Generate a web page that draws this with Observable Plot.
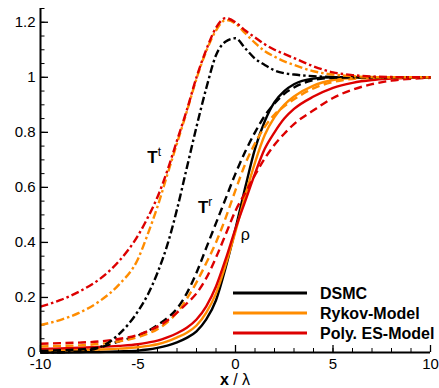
<!DOCTYPE html>
<html><head><meta charset="utf-8">
<script src="https://cdn.jsdelivr.net/npm/d3@7"></script>
<script src="https://cdn.jsdelivr.net/npm/@observablehq/plot@0.6"></script>
<style>
body{margin:0;background:#fff}
#chart{width:439px;height:388px}
</style>
</head><body><div id="chart"></div>
<script>
// ---- data ----
const models = ["DSMC", "Rykov-Model", "Poly. ES-Model"];
const modelColors = ["#000000", "#ff8c00", "#dd0000"];
const xs = [-10,-9,-8,-7,-6,-5,-4.5,-4,-3.5,-3,-2.5,-2,-1.5,-1,-0.5,0,0.5,1,1.5,2,2.5,3,4,5,6,7,8,10];

// density rho (solid)
const rhoDSMC  = [0,0,0.001,0.002,0.004,0.007,0.011,0.017,0.025,0.037,0.053,0.077,0.12,0.19,0.31,0.45,0.6,0.74,0.84,0.91,0.95,0.975,0.995,1,1,1,1,1];
const rhoRykov = [0.006,0.007,0.009,0.011,0.014,0.019,0.024,0.03,0.04,0.055,0.072,0.098,0.145,0.215,0.32,0.44,0.57,0.69,0.79,0.855,0.9,0.93,0.97,0.99,0.997,1,1,1];
const rhoPoly  = [0.013,0.015,0.017,0.02,0.024,0.03,0.036,0.043,0.055,0.07,0.09,0.12,0.168,0.24,0.34,0.45,0.55,0.65,0.74,0.8,0.85,0.885,0.93,0.962,0.98,0.99,0.995,1];

// rotational temperature T^r (dashed)
const trDSMC  = [0.006,0.008,0.011,0.018,0.04,0.062,0.078,0.1,0.125,0.16,0.215,0.29,0.38,0.47,0.56,0.65,0.73,0.8,0.86,0.905,0.94,0.963,0.99,0.998,1,1,1,1];
const trRykov = [0.022,0.024,0.026,0.031,0.04,0.056,0.068,0.085,0.11,0.145,0.195,0.255,0.325,0.4,0.49,0.59,0.685,0.76,0.82,0.865,0.895,0.92,0.96,0.983,0.994,0.998,1,1];
const trPoly  = [0.032,0.034,0.036,0.04,0.049,0.064,0.078,0.094,0.116,0.145,0.178,0.215,0.27,0.345,0.43,0.515,0.58,0.645,0.705,0.755,0.795,0.83,0.88,0.925,0.955,0.975,0.988,0.998];

// translational temperature T^t (dash-dot)
const ttDSMC  = [0,0.001,0.004,0.018,0.065,0.15,0.21,0.29,0.39,0.52,0.67,0.82,0.96,1.08,1.13,1.142,1.105,1.068,1.045,1.025,1.015,1.01,1.004,1.001,1,1,1,1];
const ttRykov = [0.1,0.118,0.145,0.185,0.245,0.34,0.43,0.53,0.645,0.76,0.875,0.995,1.095,1.17,1.208,1.195,1.16,1.125,1.095,1.075,1.058,1.045,1.022,1.01,1.004,1.001,1,1];
const ttPoly  = [0.167,0.19,0.222,0.265,0.33,0.425,0.49,0.565,0.66,0.77,0.88,1.0,1.1,1.18,1.215,1.2,1.17,1.145,1.12,1.1,1.085,1.07,1.04,1.018,1.008,1.003,1.001,1];

const xDomain = [-10, 10];
const yDomain = [0, 1.25];
const xMajor = [-10, -5, 0, 5, 10];
const xMinor = d3.range(-10, 10.01, 1);
const yMajor = [0, 0.2, 0.4, 0.6, 0.8, 1, 1.2];
const yMinor = d3.range(0, 1.251, 0.05).map(v => +v.toFixed(2));

const annotations = [
  {x: -4.5, y: 0.687, base: "T", sup: "t", bold: true},
  {x: -1.9, y: 0.505, base: "T", sup: "r", bold: true},
  {x: 0.3, y: 0.407, base: "ρ", sup: "", bold: false}
];

// ---- build table ----
const groups = [
  {qty: "rho", dash: null, vals: [rhoDSMC, rhoRykov, rhoPoly]},
  {qty: "Tr", dash: "8,4.5", vals: [trDSMC, trRykov, trPoly]},
  {qty: "Tt", dash: "8,3,2.5,3", vals: [ttDSMC, ttRykov, ttPoly]}
];
const lineMarks = groups.map(g => {
  const rows = g.vals.flatMap((arr, mi) => xs.map((x, i) => ({x, y: arr[i], model: models[mi]})));
  return Plot.line(rows, {x: "x", y: "y", z: "model", stroke: "model", strokeWidth: 2.4,
    strokeDasharray: g.dash, curve: "monotone-x", strokeLinecap: "butt"});
});

const fmt = d => String(+d.toFixed(2));
const FONT = "'Liberation Sans', Arial, sans-serif";

const plot = Plot.plot({
  width: 439, height: 388,
  marginLeft: 40, marginRight: 9, marginTop: 8, marginBottom: 36,
  style: {fontFamily: FONT, fontSize: "15px", background: "white", color: "black", overflow: "visible"},
  x: {domain: xDomain},
  y: {domain: yDomain},
  color: {domain: models, range: modelColors},
  marks: [
    Plot.axisX(xMajor, {tickSize: 0, tickPadding: 6, label: null, tickFormat: fmt, fontSize: 15}),
    Plot.axisX(xMajor, {tickSize: -7, text: null, label: null, strokeWidth: 1.3}),
    Plot.axisX(xMinor, {tickSize: -4, text: null, label: null}),
    Plot.axisY(yMajor, {tickSize: 0, tickPadding: 5, label: null, tickFormat: fmt, fontSize: 15}),
    Plot.axisY(yMajor, {tickSize: -8, text: null, label: null, strokeWidth: 1.3}),
    Plot.axisY(yMinor, {tickSize: -4.5, text: null, label: null}),
    ...lineMarks,
    Plot.ruleX([xDomain[0]], {strokeWidth: 2}),
    Plot.ruleY([yDomain[0]], {strokeWidth: 2})
  ]
});
document.getElementById("chart").appendChild(plot);

const svg = d3.select(plot);
const sx = plot.scale("x"), sy = plot.scale("y");

// annotations
annotations.forEach(a => {
  const t = svg.append("text")
    .attr("x", sx.apply(a.x)).attr("y", sy.apply(a.y))
    .attr("text-anchor", "start")
    .attr("font-family", FONT)
    .attr("font-size", a.bold ? 17 : 16).attr("font-weight", a.bold ? "bold" : "normal").attr("fill", "black");
  t.append("tspan").text(a.base);
  if (a.sup) t.append("tspan").attr("dy", -7).attr("font-size", 12).attr("font-weight", "normal").text(a.sup);
});

// axis label
const lab = svg.append("text")
  .attr("x", sx.apply(0)).attr("y", 385).attr("text-anchor", "middle")
  .attr("font-family", FONT).attr("font-size", 16).attr("fill", "black");
lab.append("tspan").attr("font-weight", "bold").text("x");
lab.append("tspan").text(" / λ");

// legend
const lg = svg.append("g");
models.forEach((m, i) => {
  const yy = 293 + i * 20;
  lg.append("line").attr("x1", 233).attr("x2", 307).attr("y1", yy).attr("y2", yy)
    .attr("stroke", modelColors[i]).attr("stroke-width", 3);
  lg.append("text").attr("x", 320).attr("y", yy).attr("dy", "0.36em")
    .attr("text-anchor", "start")
    .attr("font-family", FONT).attr("font-size", 16)
    .attr("font-weight", "bold").attr("fill", "black").text(m);
});
</script>
</body></html>
